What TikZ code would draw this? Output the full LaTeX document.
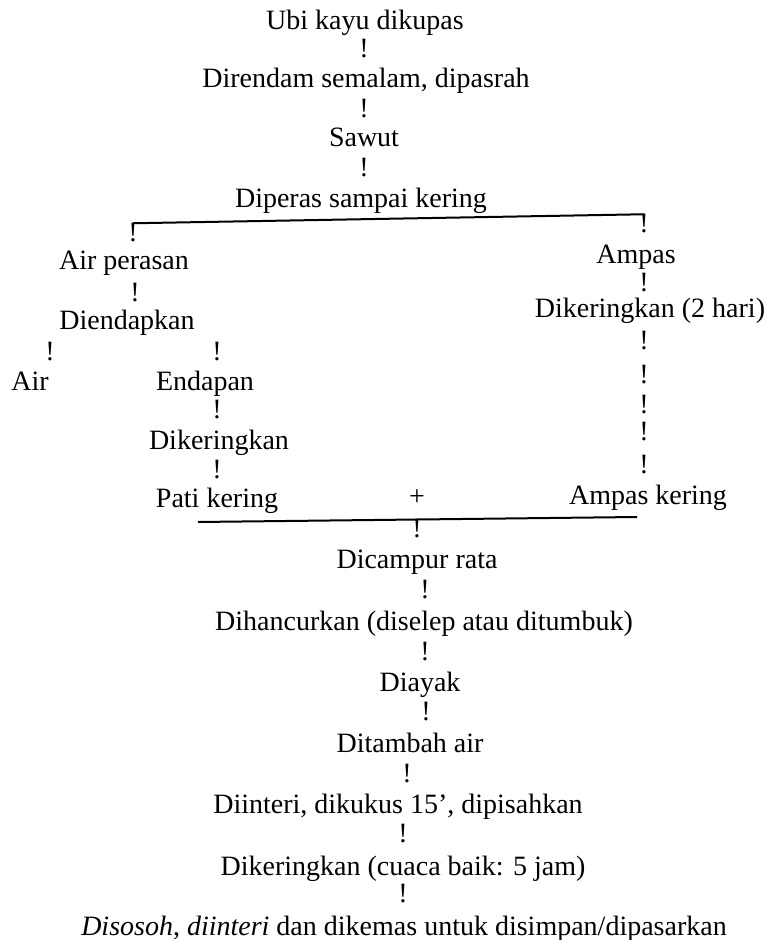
\documentclass[tikz,border=0pt]{standalone}
\usepackage{fontspec}
\setmainfont{Liberation Serif}
\tikzset{
	lbl/.style={anchor=base, inner sep=0pt},
	bang/.style={anchor=base, inner sep=0pt},
}
\begin{document}
\begin{tikzpicture}[x=0.5pt, y=-0.5pt, font=\fontsize{14}{17}\selectfont]
			\useasboundingbox (0,0) rectangle (777,940);
			% cột chính phía trên
			\node[lbl] (ubi) at (365,30) {Ubi kayu dikupas};
			\node[bang] (b1) at (364,58) {!};
			\node[lbl] (rendam) at (366,88) {Direndam semalam, dipasrah};
			\node[bang] (b2) at (364,118) {!};
			\node[lbl] (sawut) at (364,147) {Sawut};
			\node[bang] (b3) at (364,177) {!};
			\node[lbl] (peras) at (361,208) {Diperas sampai kering};
			% tách hai nhánh
			\node[bang] (tl) at (133,242) {!};
			\node[bang] (tr) at (644,233) {!};
			\draw[line width=1pt] (tl.north) -- (tr.north);
			% nhánh trái
			\node[lbl] (airperas) at (124,270) {Air perasan};
			\node[bang] (b4) at (135,302) {!};
			\node[lbl] (endap) at (127,330) {Diendapkan};
			\node[bang] (b5) at (50,360) {!};
			\node[bang] (b6) at (217,360) {!};
			\node[lbl] (air) at (30,390) {Air};
			\node[lbl] (endapan) at (205,390) {Endapan};
			\node[bang] (b7) at (217,418) {!};
			\node[lbl] (kering1) at (219,449) {Dikeringkan};
			\node[bang] (b8) at (217,478) {!};
			\node[lbl] (pati) at (217,507) {Pati kering};
			\node[lbl] (plus) at (417,505) {+};
			% nhánh phải
			\node[lbl] (ampas) at (636,264) {Ampas};
			\node[bang] (b9) at (644,292) {!};
			\node[lbl] (kering2) at (650,318) {Dikeringkan (2 hari)};
			\foreach \y [count=\i] in {350,383,413,440,473}
				\node[bang] (r\i) at (644,\y) {!};
			\node[lbl] (ampask) at (648,504) {Ampas kering};
			% gộp lại
			\coordinate (ml) at (198,522);
			\coordinate (mr) at (637,517);
			\draw[line width=1pt] (ml) -- (mr);
			\node[bang] (tm) at (417,537) {!};
			% cột chính phía dưới
			\node[lbl] (campur) at (417,568) {Dicampur rata};
			\node[bang] (b10) at (425,598) {!};
			\node[lbl] (hancur) at (424,630) {Dihancurkan (diselep atau ditumbuk)};
			\node[bang] (b11) at (425,660) {!};
			\node[lbl] (ayak) at (420,691) {Diayak};
			\node[bang] (b12) at (426,720) {!};
			\node[lbl] (tambah) at (410,752) {Ditambah air};
			\node[bang] (b13) at (407,782) {!};
			\node[lbl] (interi) at (398,813) {Diinteri, dikukus 15’, dipisahkan};
			\node[bang] (b14) at (403,842) {!};
			\node[lbl] (kering3) at (403,875) {Dikeringkan (cuaca baik: 5 jam)};
			\node[bang] (b15) at (403,902) {!};
			\node[lbl] (sosoh) at (404,935) {\textit{Disosoh}, \textit{diinteri} dan dikemas untuk disimpan/dipasarkan};
	\end{tikzpicture}
\end{document}
